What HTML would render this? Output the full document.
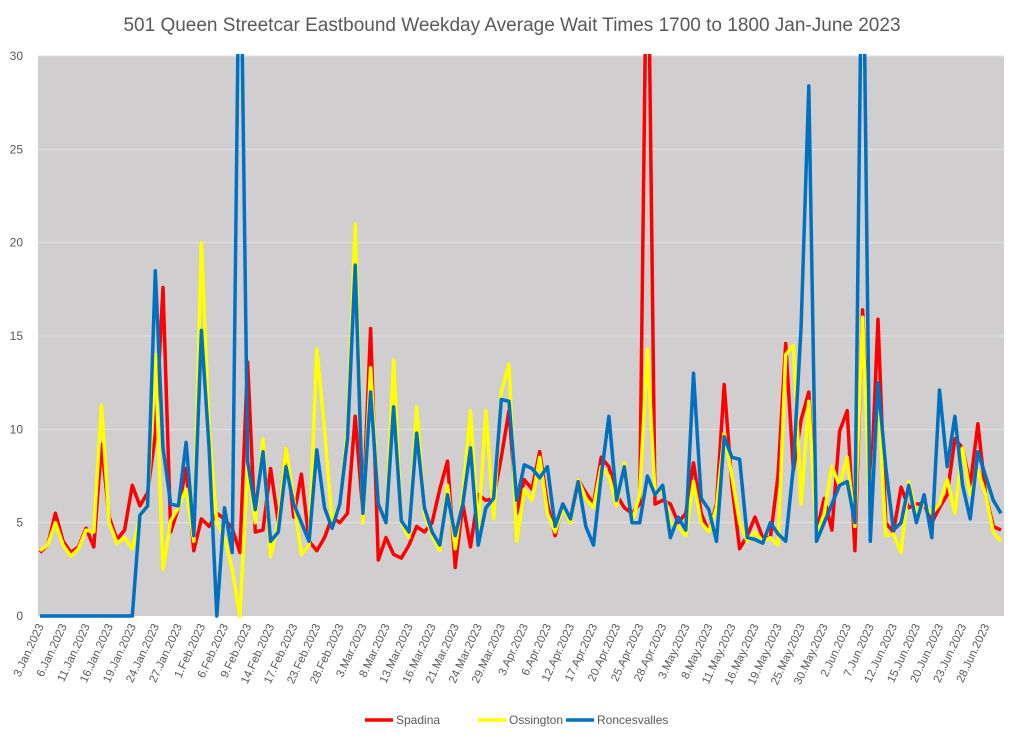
<!DOCTYPE html>
<html><head><meta charset="utf-8"><style>
body{margin:0;background:#fff;font-family:"Liberation Sans",sans-serif}
svg{display:block}
</style></head><body>
<svg id="chart" width="1024" height="742">
<rect x="0" y="0" width="1024" height="742" fill="#fff"/>
<text x="512" y="31" text-anchor="middle" font-size="19" fill="#595959">501 Queen Streetcar Eastbound Weekday Average Wait Times 1700 to 1800 Jan-June 2023</text>
<defs><clipPath id="pc"><rect x="38" y="54" width="968" height="564"/></clipPath></defs>
<rect x="38" y="56" width="966" height="560" fill="#d0cece"/>
<g id="grid"></g><g id="yt"></g><g id="xt"></g>
<g id="lines" clip-path="url(#pc)"></g>
<g id="legend"></g>
</svg>
<script>
const xLabels=["3.Jan.2023","6.Jan.2023","11.Jan.2023","16.Jan.2023","19.Jan.2023","24.Jan.2023","27.Jan.2023","1.Feb.2023","6.Feb.2023","9.Feb.2023","14.Feb.2023","17.Feb.2023","23.Feb.2023","28.Feb.2023","3.Mar.2023","8.Mar.2023","13.Mar.2023","16.Mar.2023","21.Mar.2023","24.Mar.2023","29.Mar.2023","3.Apr.2023","6.Apr.2023","12.Apr.2023","17.Apr.2023","20.Apr.2023","25.Apr.2023","28.Apr.2023","3.May.2023","8.May.2023","11.May.2023","16.May.2023","19.May.2023","25.May.2023","30.May.2023","2.Jun.2023","7.Jun.2023","12.Jun.2023","15.Jun.2023","20.Jun.2023","23.Jun.2023","28.Jun.2023"];
const yTicks=[0,5,10,15,20,25,30];
const spadina=[3.4,3.8,5.5,4.0,3.4,3.7,4.7,3.7,9.2,5.3,4.1,4.6,7.0,5.9,6.6,9.7,17.6,4.5,5.8,7.9,3.5,5.2,4.8,5.5,5.2,4.7,3.4,13.6,4.5,4.6,7.9,5.0,9.0,5.3,7.6,4.0,3.5,4.2,5.3,5.0,5.5,10.7,5.5,15.4,3.0,4.2,3.3,3.1,3.8,4.8,4.5,5.0,6.8,8.3,2.6,6.0,3.7,6.5,6.2,6.3,8.5,11.0,5.5,7.3,6.8,8.8,6.0,4.3,6.0,5.2,7.3,6.6,6.0,8.5,8.0,6.5,5.8,5.5,6.0,40,6.0,6.2,6.0,5.0,5.5,8.2,5.5,4.5,6.0,12.4,7.0,3.6,4.3,5.3,4.2,4.2,7.5,14.6,7.8,10.5,12.0,4.5,6.3,4.6,9.9,11.0,3.5,16.4,6.0,15.9,5.0,4.5,6.9,5.8,6.0,6.0,5.0,5.8,6.5,9.5,9.0,7.0,10.3,6.5,4.8,4.6];
const ossington=[3.5,3.8,5.0,3.8,3.2,3.6,4.6,4.5,11.3,5.0,3.9,4.2,3.6,5.3,6.0,14.0,2.5,5.1,5.8,6.8,4.0,20.0,10.0,5.0,4.2,2.5,0,8.0,5.0,9.5,3.2,5.0,9.0,6.3,3.3,3.8,14.3,10.0,5.0,6.0,10.0,21.0,5.0,13.3,6.0,5.0,13.7,5.0,4.2,11.2,5.5,4.3,3.5,7.0,3.6,6.5,11.0,4.5,11.0,5.2,12.0,13.5,4.0,6.8,6.2,8.5,5.5,4.5,5.8,5.0,7.3,6.3,5.8,8.0,7.5,5.9,8.2,5.0,6.5,14.3,6.5,6.8,5.0,4.8,4.3,7.2,5.0,4.5,5.8,9.8,7.5,5.0,4.0,4.5,4.0,4.2,3.8,14.0,14.5,6.0,11.5,4.3,5.5,8.0,7.0,8.5,4.8,16.0,5.0,12.0,4.3,4.4,3.4,7.2,5.5,6.0,5.5,6.0,7.3,5.5,9.0,6.5,7.8,6.5,4.5,4.0];
const roncesvalles=[0,0,0,0,0,0,0,0,0,0,0,0,0,5.4,5.9,18.5,9.0,6.0,5.9,9.3,4.3,15.3,9.0,0,5.8,3.4,40,8.3,5.7,8.8,4.0,4.5,8.0,6.0,5.0,4.0,8.9,5.8,4.7,6.0,9.5,18.8,5.5,12.0,6.0,5.0,11.2,5.1,4.5,9.8,5.8,4.5,3.8,6.5,4.3,6.0,9.0,3.8,5.8,6.3,11.6,11.5,6.2,8.1,7.9,7.4,8.0,4.8,6.0,5.2,7.2,4.8,3.8,7.5,10.7,6.2,8.0,5.0,5.0,7.5,6.5,7.0,4.2,5.3,4.6,13.0,6.3,5.7,4.0,9.6,8.5,8.4,4.2,4.1,3.9,5.0,4.4,4.0,8.0,15.5,28.4,4.0,5.0,6.0,7.0,7.2,5.0,40,4.0,12.5,8.0,4.6,5.0,7.0,5.0,6.5,4.2,12.1,8.0,10.7,7.0,5.2,8.8,7.5,6.2,5.5];
const NS="http://www.w3.org/2000/svg";
const X0=40,X1=1001,Y0=616,Y1=56;
const n=spadina.length;
function xs(i){return X0+(X1-X0)*i/(n-1);}
function ys(v){return Y0-(Y0-Y1)*v/30;}
function mk(t,a,p){const e=document.createElementNS(NS,t);for(const k in a)e.setAttribute(k,a[k]);p.appendChild(e);return e;}
const grid=document.getElementById('grid'),yt=document.getElementById('yt'),xt=document.getElementById('xt'),lines=document.getElementById('lines'),legend=document.getElementById('legend');
yTicks.forEach(v=>{
 if(v>0){const g=mk('line',{x1:38,x2:1004,y1:ys(v),y2:ys(v),stroke:'#e4e2e2','stroke-width':1},grid);
 
 }
 const t=mk('text',{x:23,y:ys(v)+4,'text-anchor':'end','font-size':12,fill:'#595959'},yt);t.textContent=v;
 
 
});
xLabels.forEach((l,k)=>{
 const x=xs(k*3)+4,y=626;
 const t=mk('text',{x:x,y:y,'text-anchor':'end','font-size':11.5,fill:'#595959',transform:`rotate(-65 ${x} ${y})`},xt);t.textContent=l;
 
 
});
const series=[["Spadina",spadina,"#ff0000"],["Ossington",ossington,"#ffff00"],["Roncesvalles",roncesvalles,"#0070c0"]];
series.forEach(([name,d,c])=>{
 const p=mk('polyline',{points:d.map((v,i)=>xs(i).toFixed(1)+','+ys(v).toFixed(1)).join(' '),fill:'none',stroke:c,'stroke-width':3.5,'stroke-linejoin':'round'},lines);
 
 
});
const lx=[365,478,566];
series.forEach(([name,d,c],k)=>{
 const g=mk('g',{},legend);
 
 
 mk('line',{x1:lx[k],x2:lx[k]+28,y1:720,y2:720,stroke:c,'stroke-width':3.5},g);
 const t=mk('text',{x:lx[k]+31,y:724,'font-size':12,fill:'#595959'},g);t.textContent=name;
});
</script>
</body></html>
